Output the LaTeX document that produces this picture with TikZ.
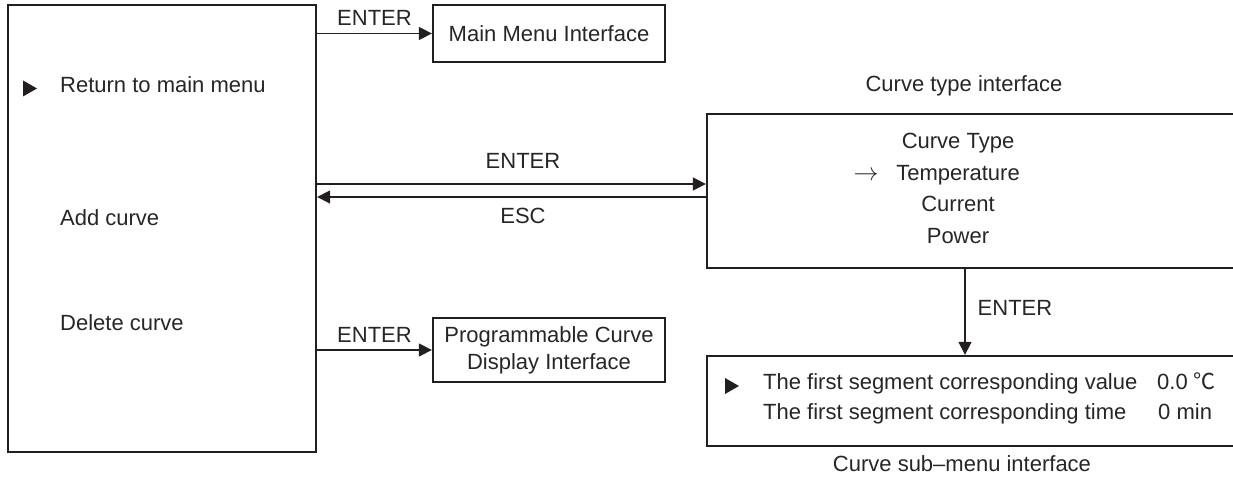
\documentclass[tikz,border=0pt]{standalone}
\usepackage{fontspec}
\setmainfont{Liberation Sans}
\newfontfamily\cjk{Noto Sans CJK SC}
\usetikzlibrary{arrows.meta}
\definecolor{ink}{HTML}{231F20}
\definecolor{txt}{HTML}{262626}
\tikzset{
  box/.style={draw=ink, line width=2.3pt, inner sep=0pt, text=txt, align=center},
  conn/.style={draw=ink, line width=1.4pt, -{Triangle[length=13pt,width=13pt]}},
  lbl/.style={text=txt, inner sep=0pt, text height=0.72em, text depth=0pt},
  tri/.style={fill=ink, draw=none},
}
\begin{document}
\begin{tikzpicture}[x=1pt, y=-1pt, font=\fontsize{22}{27}\selectfont]
\path[use as bounding box] (0,0) rectangle (1233,486);
\clip (0,0) rectangle (1233,486);

% left menu box
\node[box, minimum width=308pt, minimum height=447pt] (menu) at (162,228.5) {};
\fill[tri] (23,80.5) -- (37,88.5) -- (23,96.5) -- cycle;
\node[lbl, anchor=west] (ret) at (60,89) {Return to main menu};
\node[lbl, anchor=west] (add) at (60,222) {Add curve};
\node[lbl, anchor=west] (del) at (60,327) {Delete curve};

% main menu interface
\node[box, minimum width=232pt, minimum height=57pt] (mm) at (549,33.5) {Main Menu Interface};
\draw[conn] (menu.east |- mm) -- node[lbl, above=7pt] (e1) {ENTER} (mm.west);

% programmable curve display
\node[box, minimum width=232pt, minimum height=64pt] (pc) at (549,350) {Programmable Curve\\Display Interface};
\draw[conn] (menu.east |- pc) -- node[lbl, above=7pt] (e2) {ENTER} (pc.west);

% curve type interface
\node[lbl] (ctl) at (964,88) {Curve type interface};
\node[box, minimum width=553pt, minimum height=154pt] (ct) at (983.5,191) {};
\node[lbl] (t1) at (958,145) {Curve Type};
\node[lbl] (t2) at (958,177) {Temperature};
\node[text=txt, inner sep=0pt] (t2a) at (866,176) {\fontsize{28}{28}\selectfont$\rightarrow$};
\node[lbl] (t3) at (958,208) {Current};
\node[lbl] (t4) at (958,240) {Power};

\draw[conn] (menu.east |- 0,184) -- (ct.west |- 0,184);
\node[lbl] (e3) at (523,165) {ENTER};
\draw[conn] (ct.west |- 0,197) -- (menu.east |- 0,197);
\node[lbl] (esc) at (523,220) {ESC};

% curve sub-menu interface
\node[box, minimum width=553pt, minimum height=90pt] (sb) at (983.5,401) {};
\draw[conn] (ct.south -| 965,0) -- node[lbl, right=12pt] (e4) {ENTER} (sb.north -| 965,0);
\fill[tri] (725,378) -- (739,386) -- (725,394) -- cycle;
\node[lbl, anchor=west] (s1) at (763,386) {The first segment corresponding value};
\node[lbl, anchor=west] (v1) at (1157,386) {0.0 {\cjk ℃}};
\node[lbl, anchor=west] (s2) at (763,416) {The first segment corresponding time};
\node[lbl, anchor=west] (v2) at (1158,416) {0 min};
\node[lbl] (sbl) at (962,468) {Curve sub–menu interface};
\end{tikzpicture}
\end{document}
